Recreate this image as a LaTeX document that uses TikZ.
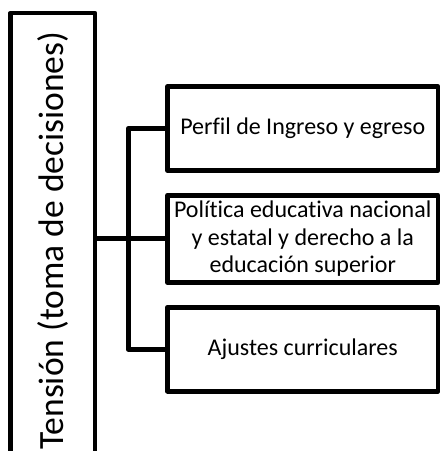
\documentclass[tikz,border=0pt]{standalone}
\usepackage{fontspec}
\setmainfont[Ligatures=NoCommon]{Carlito}
\usepackage{graphicx}
\usetikzlibrary{positioning}

\begin{document}
\begin{tikzpicture}[x=1pt,y=-1pt,line width=4.8pt,line join=round,
    box/.style={draw, fill=white, minimum width=270.5pt, minimum height=84pt,
      inner sep=1pt, align=center, font=\fontsize{24}{27.5}\selectfont}]
        \useasboundingbox (0,0) rectangle (441,451);
        \clip (0,0) rectangle (441,451);
        \node[draw, minimum width=84.5pt, minimum height=455pt] (tension) at (52.75,240.5)
            {\fontsize{35.5}{40}\selectfont\rotatebox{90}{Tensión (toma de decisiones)}};
        \node[box] (perfil) at (302.75,128.5) {Perfil de Ingreso y egreso};
        \node[box, minimum height=87pt, below=20pt of perfil] (politica) {Política educativa nacional\\y estatal y derecho a la\\educación superior};
        \node[box, below=20pt of politica] (ajustes) {Ajustes curriculares};
        % ramas
        \draw (perfil.west) -- ++(-37,0) |- (ajustes.west);
        \draw (tension.east |- politica.west) -- (politica.west);
    \end{tikzpicture}
\end{document}
